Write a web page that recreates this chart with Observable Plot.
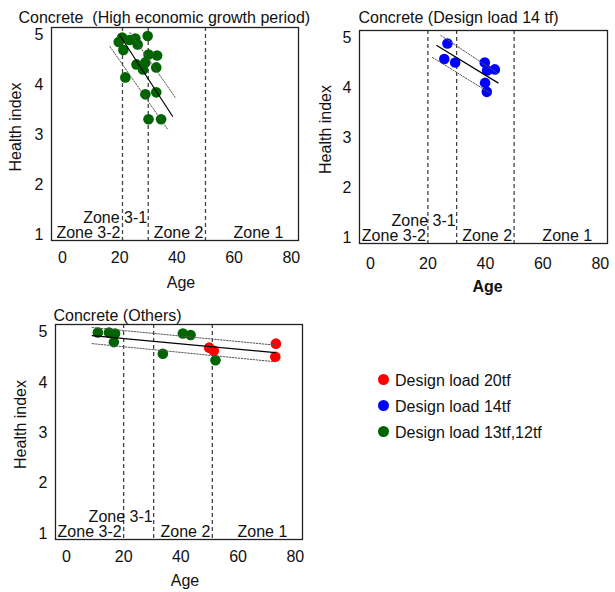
<!DOCTYPE html>
<html><head><meta charset="utf-8">
<script src="https://cdn.jsdelivr.net/npm/d3@7"></script>
<script src="https://cdn.jsdelivr.net/npm/@observablehq/plot@0.6"></script>
<style>
body{margin:0;background:#fff;font-family:"Liberation Sans",Arial,sans-serif;}
#root{position:relative;width:615px;height:592px;overflow:hidden;background:#fff;}
.panel{position:absolute;}
.lg{position:absolute;font-size:16px;color:#111;white-space:nowrap;line-height:20px;}
.lgdot{position:absolute;width:11px;height:11px;border-radius:50%;}
</style></head><body><div id="root"></div>
<script>
// ---------- data ----------
const xTicks = [0, 20, 40, 60, 80];
const yTicks = [1, 2, 3, 4, 5];
const zoneNames = ["Zone 3-2", "Zone 3-1", "Zone 2", "Zone 1"];
const loadNames = ["Design load 20tf", "Design load 14tf", "Design load 13tf,12tf"];
const loadColors = ["#ff0000", "#0000ff", "#006400"];

// Panel 1: High economic growth period (design load 13tf,12tf)
const p1Title = "Concrete\u00a0 (High economic growth period)";
const p1Age = [19.7, 20.9, 21.3, 23.5, 25.5, 26.3, 29.8, 30.1, 33.1, 25.9, 29.0, 28.2, 32.8, 22.0, 29.0, 32.8, 30.1, 34.5];
const p1HI  = [4.86, 4.95, 4.70, 4.90, 4.93, 4.81, 4.98, 4.61, 4.59, 4.41, 4.45, 4.31, 4.35, 4.15, 3.81, 3.85, 3.31, 3.31];
const p1FitAge = [20.1, 38.5],  p1FitHI = [4.99, 3.37];
const p1UpAge  = [23.6, 39.4],  p1UpHI  = [5.05, 3.75];
const p1LoAge  = [16.6, 36.9],  p1LoHI  = [4.77, 3.10];
const p1Zones = [21, 30, 50];

// Panel 2: Design load 14 tf
const p2Title = "Concrete (Design load 14 tf)";
const p2Age = [26.8, 25.7, 29.5, 39.8, 40.6, 43.3, 39.9, 40.5];
const p2HI  = [4.89, 4.58, 4.51, 4.51, 4.35, 4.37, 4.10, 3.92];
const p2FitAge = [23.1, 44.4],  p2FitHI = [4.85, 4.10];
const p2UpAge  = [24.5, 44.4],  p2UpHI  = [5.05, 4.29];
const p2LoAge  = [21.6, 41.5],  p2LoHI  = [4.61, 3.90];
const p2Zones = [20, 30, 50];

// Panel 3: Others
const p3Title = "Concrete (Others)";
const p3Age  = [11.0, 14.9, 17.0, 16.6, 40.7, 43.4, 33.7, 49.9, 51.5, 52.1, 73.2, 73.0];
const p3HI   = [4.99, 4.99, 4.97, 4.80, 4.97, 4.94, 4.57, 4.69, 4.63, 4.44, 4.77, 4.51];
const p3Load = ["Design load 13tf,12tf", "Design load 13tf,12tf", "Design load 13tf,12tf", "Design load 13tf,12tf",
                "Design load 13tf,12tf", "Design load 13tf,12tf", "Design load 13tf,12tf", "Design load 20tf",
                "Design load 20tf", "Design load 13tf,12tf", "Design load 20tf", "Design load 20tf"];
const p3FitAge = [9.0, 73.0],  p3FitHI = [4.93, 4.59];
const p3UpAge  = [9.0, 73.0],  p3UpHI  = [5.09, 4.74];
const p3LoAge  = [9.0, 73.0],  p3LoHI  = [4.77, 4.41];
const p3Zones = [20, 30.5, 51];

// ---------- drawing ----------
const FONT = "'Liberation Sans', Arial, sans-serif";
function panel(o) {
  const zoneX = [o.zones[0], o.zones[1], o.zones[2], 68.5];
  const zoneY = [1.04, 1.33, 1.04, 1.04];
  const zoneAnchor = ["end", "end", "end", "middle"];
  const zoneDx = [-2, -1, -2, 0];
  const idx = d3.range(4);
  const T = {fill: "#111", fontSize: 16, lineAnchor: "middle"};
  return Plot.plot({
    width: o.w, height: o.h,
    marginLeft: o.ml, marginRight: o.mr, marginTop: o.mt, marginBottom: o.mb,
    style: {fontFamily: FONT, fontSize: "16px", color: "#111", background: "white", overflow: "visible"},
    x: {domain: [-3.8, 82.5], ticks: xTicks, tickSize: 0, tickPadding: o.xpad, tickFormat: "d", label: null},
    y: {domain: [0.88, 5.15], ticks: yTicks, tickSize: 0, tickPadding: 8, tickFormat: "d", label: null},
    color: {domain: loadNames, range: loadColors},
    marks: [
      Plot.ruleX(o.zones, {stroke: "#444", strokeWidth: 1.3, strokeDasharray: "4,3"}),
      Plot.dot(o.age, {x: o.age, y: o.hi, r: 5.3, fill: o.fill}),
      Plot.line(o.upAge, {x: o.upAge, y: o.upHI, stroke: "#555", strokeWidth: 1, strokeDasharray: "1.5,1.5"}),
      Plot.line(o.loAge, {x: o.loAge, y: o.loHI, stroke: "#555", strokeWidth: 1, strokeDasharray: "1.5,1.5"}),
      Plot.line(o.fitAge, {x: o.fitAge, y: o.fitHI, stroke: "#000", strokeWidth: 1.2}),
      ...idx.map(i => Plot.text([zoneNames[i]], {x: [zoneX[i]], y: [zoneY[i]], text: d => d,
        textAnchor: zoneAnchor[i], dx: zoneDx[i], ...T})),
      Plot.frame({stroke: "#222", strokeWidth: 1.3}),
      Plot.text([o.title], {frameAnchor: "top-left", text: d => d, textAnchor: "start",
        dx: o.tdx, dy: o.tdy, ...T}),
      Plot.text(["Health index"], {frameAnchor: "left", text: d => d, rotate: -90, textAnchor: "middle",
        dx: o.ydx, dy: o.ydy, ...T}),
      Plot.text(["Age"], {frameAnchor: "bottom", text: d => d, textAnchor: "middle", dx: o.adx, dy: o.ady,
        ...T, fontWeight: o.ageBold ? "bold" : "normal"})
    ]
  });
}

const root = document.getElementById("root");
function place(el, left, top) {
  el.classList.add("panel");
  el.style.left = left + "px"; el.style.top = top + "px";
  root.appendChild(el);
}

const green = loadColors[2], blue = loadColors[1];

place(panel({w: 310, h: 295, ml: 51, mr: 12, mt: 27, mb: 55, xpad: 11,
  title: p1Title, tdx: -33, tdy: -10, ydx: -36, ydy: -7, adx: 6, ady: 42, ageBold: false,
  zones: p1Zones, age: p1Age, hi: p1HI, fill: green,
  fitAge: p1FitAge, fitHI: p1FitHI, upAge: p1UpAge, upHI: p1UpHI, loAge: p1LoAge, loHI: p1LoHI}), 0, 0);

place(panel({w: 305, h: 295, ml: 49, mr: 8, mt: 30, mb: 52, xpad: 14,
  title: p2Title, tdx: -1, tdy: -13, ydx: -34, ydy: -7.5, adx: 4, ady: 43, ageBold: true,
  zones: p2Zones, age: p2Age, hi: p2HI, fill: blue,
  fitAge: p2FitAge, fitHI: p2FitHI, upAge: p2UpAge, upHI: p2UpHI, loAge: p2LoAge, loHI: p2LoHI}), 310, 0);

place(panel({w: 310, h: 297, ml: 55, mr: 8, mt: 29, mb: 53, xpad: 11,
  title: p3Title, tdx: -2, tdy: -9, ydx: -35, ydy: -7.5, adx: 6, ady: 41, ageBold: false,
  zones: p3Zones, age: p3Age, hi: p3HI, fill: p3Load,
  fitAge: p3FitAge, fitHI: p3FitHI, upAge: p3UpAge, upHI: p3UpHI, loAge: p3LoAge, loHI: p3LoHI}), 0, 295);

// legend
const lgY = [379, 405, 431];
loadNames.forEach((name, i) => {
  const dot = document.createElement("div");
  dot.className = "lgdot";
  dot.style.background = loadColors[i];
  dot.style.left = (383 - 5.5) + "px"; dot.style.top = (lgY[i] - 5.5) + "px";
  root.appendChild(dot);
  const t = document.createElement("div");
  t.className = "lg";
  t.textContent = name;
  t.style.left = "395px"; t.style.top = (lgY[i] + 2 - 10) + "px";
  root.appendChild(t);
});
</script>
</body></html>
